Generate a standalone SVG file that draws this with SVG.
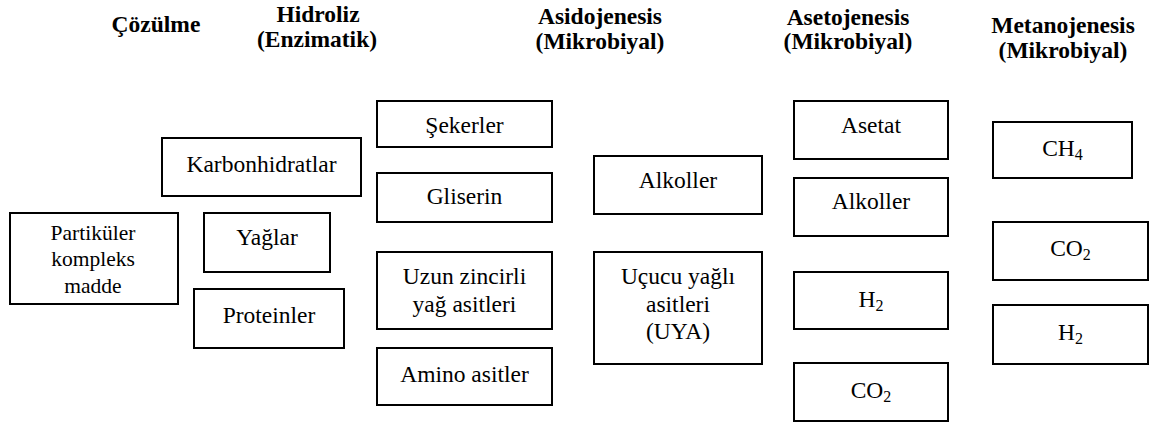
<svg xmlns="http://www.w3.org/2000/svg" width="1149" height="423" viewBox="0 0 1149 423">
  <style>
    text { font-family: 'Liberation Serif', serif; fill: #000000; text-anchor: middle; }
    .box { fill: #ffffff; stroke: #000000; stroke-width: 2; }
    .lbl { font-size: 23.5px; }
    .small { font-size: 21.5px; }
    .head { font-size: 23.5px; font-weight: bold; }
    .sub { font-size: 16px; }
  </style>
  <rect width="1149" height="423" fill="#ffffff"/>

  <!-- stage headings -->
  <g id="headings">
    <text class="head" x="156" y="32">Çözülme</text>
    <text class="head" x="318" y="22">Hidroliz</text>
    <text class="head" x="317" y="47">(Enzimatik)</text>
    <text class="head" x="600" y="24">Asidojenesis</text>
    <text class="head" x="600" y="49">(Mikrobiyal)</text>
    <text class="head" x="848" y="25">Asetojenesis</text>
    <text class="head" x="848" y="49">(Mikrobiyal)</text>
    <text class="head" x="1063" y="33">Metanojenesis</text>
    <text class="head" x="1063" y="58">(Mikrobiyal)</text>
  </g>

  <!-- disintegration -->
  <g id="partikuler">
    <rect class="box" x="10" y="213" width="168" height="91"/>
    <text class="small" x="93" y="240">Partiküler</text>
    <text class="small" x="93" y="266">kompleks</text>
    <text class="small" x="93" y="293">madde</text>
  </g>

  <!-- hydrolysis inputs -->
  <g id="karbonhidratlar">
    <rect class="box" x="162" y="138" width="199" height="58"/>
    <text class="lbl" x="261.5" y="172">Karbonhidratlar</text>
  </g>
  <g id="yaglar">
    <rect class="box" x="204" y="213" width="126" height="59"/>
    <text class="lbl" x="267" y="245">Yağlar</text>
  </g>
  <g id="proteinler">
    <rect class="box" x="194" y="289" width="150" height="59"/>
    <text class="lbl" x="269" y="323">Proteinler</text>
  </g>

  <!-- hydrolysis products -->
  <g id="sekerler">
    <rect class="box" x="377" y="101" width="175" height="46"/>
    <text class="lbl" x="464.5" y="133">Şekerler</text>
  </g>
  <g id="gliserin">
    <rect class="box" x="377" y="173" width="175" height="49"/>
    <text class="lbl" x="464.5" y="204">Gliserin</text>
  </g>
  <g id="uzun-zincirli">
    <rect class="box" x="377" y="252" width="175" height="77"/>
    <text class="lbl" x="464.5" y="284">Uzun zincirli</text>
    <text class="lbl" x="464.5" y="311.5">yağ asitleri</text>
  </g>
  <g id="amino-asitler">
    <rect class="box" x="377" y="348" width="175" height="57"/>
    <text class="lbl" x="464.5" y="381.5">Amino asitler</text>
  </g>

  <!-- acidogenesis products -->
  <g id="alkoller-1">
    <rect class="box" x="594" y="156" width="168" height="58"/>
    <text class="lbl" x="678" y="187.5">Alkoller</text>
  </g>
  <g id="uya">
    <rect class="box" x="594" y="252" width="168" height="112"/>
    <text class="lbl" x="678" y="284">Uçucu yağlı</text>
    <text class="lbl" x="678" y="311.5">asitleri</text>
    <text class="lbl" x="678" y="339">(UYA)</text>
  </g>

  <!-- acetogenesis products -->
  <g id="asetat">
    <rect class="box" x="794" y="101" width="154" height="58"/>
    <text class="lbl" x="871" y="132.5">Asetat</text>
  </g>
  <g id="alkoller-2">
    <rect class="box" x="794" y="178" width="154" height="58"/>
    <text class="lbl" x="871" y="209">Alkoller</text>
  </g>
  <g id="h2-1">
    <rect class="box" x="794" y="272" width="154" height="57"/>
    <text class="lbl" x="871" y="306.5">H<tspan class="sub" dy="4">2</tspan></text>
  </g>
  <g id="co2-1">
    <rect class="box" x="794" y="363" width="154" height="58"/>
    <text class="lbl" x="871" y="398">CO<tspan class="sub" dy="4">2</tspan></text>
  </g>

  <!-- methanogenesis products -->
  <g id="ch4">
    <rect class="box" x="993" y="122" width="139" height="56"/>
    <text class="lbl" x="1062.5" y="156">CH<tspan class="sub" dy="4">4</tspan></text>
  </g>
  <g id="co2-2">
    <rect class="box" x="993" y="222" width="155" height="58"/>
    <text class="lbl" x="1070.5" y="256">CO<tspan class="sub" dy="4">2</tspan></text>
  </g>
  <g id="h2-2">
    <rect class="box" x="993" y="305" width="155" height="59"/>
    <text class="lbl" x="1070.5" y="340">H<tspan class="sub" dy="4">2</tspan></text>
  </g>

  <!-- no connectors are drawn between the stages -->
  <g id="connectors"></g>
</svg>
